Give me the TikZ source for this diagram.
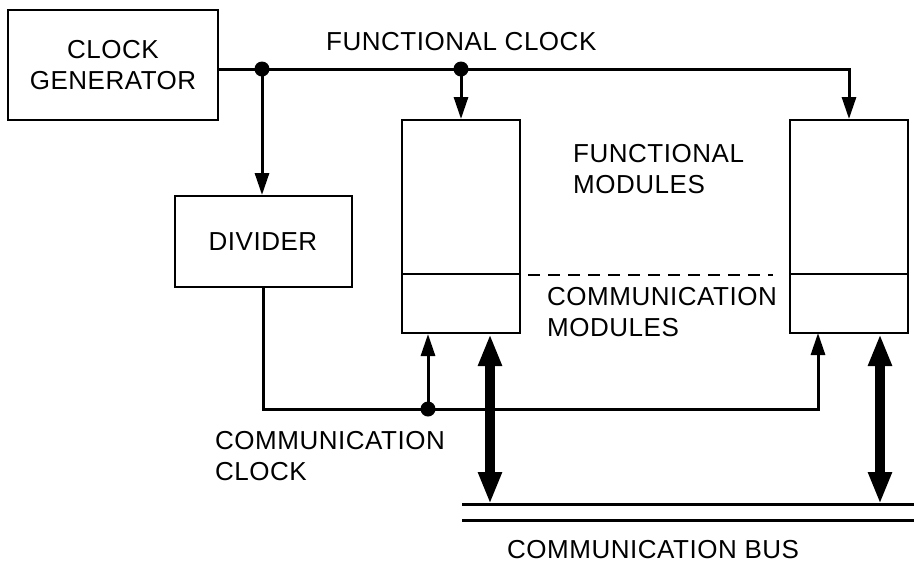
\documentclass[tikz,border=0pt]{standalone}
\usepackage{fontspec}
\setmainfont[LetterSpace=2]{Liberation Sans}
\usetikzlibrary{arrows.meta}
\tikzset{
  blk/.style={draw, line width=2pt, align=center, inner sep=0pt},
  lbl/.style={anchor=west, align=left, inner sep=0pt},
  wire/.style={line width=3pt},
  feed/.style={wire, -{Triangle[length=22pt,width=14pt]}},
  busarrow/.style={line width=10pt, {Triangle[length=32pt,width=22pt]}-{Triangle[length=32pt,width=22pt]}},
}
\begin{document}
\begin{tikzpicture}[x=1pt, y=-1pt, every node/.style={font=\fontsize{26}{31}\selectfont}]
  \useasboundingbox (0,0) rectangle (914,566);
  % blocks
  \node[blk, minimum width=210pt, minimum height=110pt] (gen) at (113,65) {CLOCK\\GENERATOR};
  \node[blk, minimum width=177pt, minimum height=91pt] (div) at (263,241.5) {DIVIDER};
  \foreach \m/\x in {fm1/461,fm2/849} {
    \node[blk, minimum width=118pt, minimum height=213pt] (\m) at (\x,226.5) {};
    \draw[line width=2pt] (\x-59,274) -- (\x+59,274);
  }
  \draw[line width=2pt, dash pattern=on 12pt off 8pt] (528,275) -- (773,275);
  % junctions and bus
  \coordinate (j1) at (262,69);
  \coordinate (j2) at (461,69);
  \coordinate (j3) at (428,409);
  \coordinate (in2) at (818,333);
  \coordinate (busa) at (462,504); \coordinate (busb) at (914,504);
  \coordinate (busc) at (462,520); \coordinate (busd) at (914,520);
  \coordinate (tap1) at (490,504); \coordinate (tap2) at (880,504);
  % functional clock
  \draw[wire] (gen.east |- j1) -- (j1);
  \draw[feed] (j1) -| (fm2.north);
  \draw[feed] (j1) -- (j1 |- div.north);
  \draw[feed] (j2) -- (fm1.north);
  % communication clock
  \draw[wire] (div.south) |- (j3);
  \draw[feed] (j3) -- (j3 |- fm1.south);
  \draw[feed] (j3) -| (in2);
  % bus
  \draw[wire] (busa) -- (busb);
  \draw[wire] (busc) -- (busd);
  \draw[busarrow] (tap1 |- fm1.south) -- (tap1);
  \draw[busarrow] (tap2 |- fm2.south) -- (tap2);
  \foreach \j in {j1,j2,j3} \fill (\j) circle (7.5pt);
  % labels
  \node[lbl] (fclk) at (326,42) {FUNCTIONAL CLOCK};
  \node[lbl] (fmod) at (573,169) {FUNCTIONAL\\MODULES};
  \node[lbl] (cmod) at (547,312) {COMMUNICATION\\MODULES};
  \node[lbl] (cclk) at (215,456) {COMMUNICATION\\CLOCK};
  \node[lbl] (cbus) at (507,550) {COMMUNICATION BUS};
\end{tikzpicture}
\end{document}
